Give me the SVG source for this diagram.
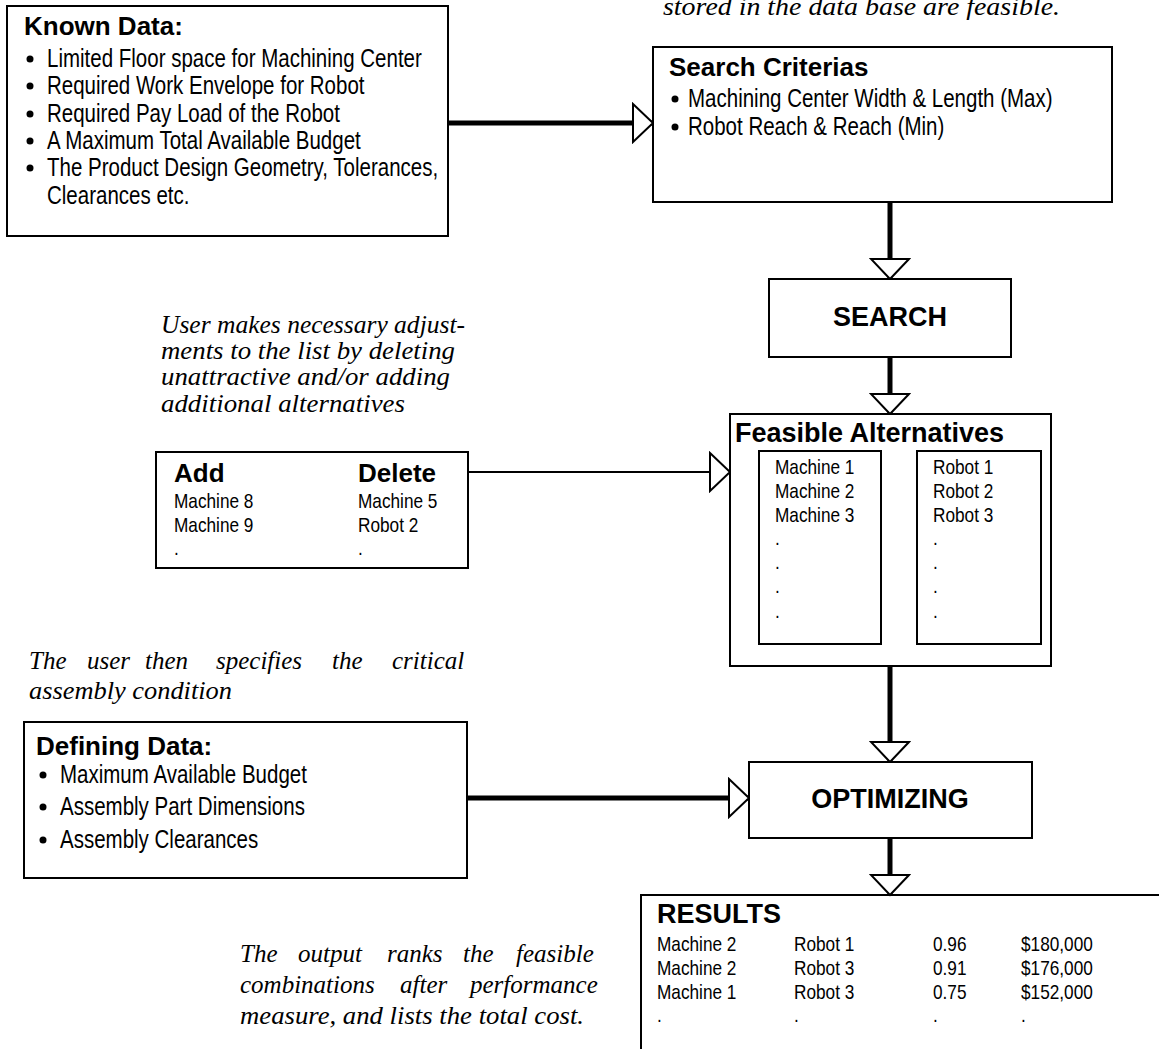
<svg xmlns="http://www.w3.org/2000/svg" width="1159" height="1049" viewBox="0 0 1159 1049">
<style>
.box{fill:#fff;stroke:#000;stroke-width:2}
.b{font-family:"Liberation Sans",Arial,sans-serif;font-weight:bold;font-size:26px;fill:#000}
.bc{font-family:"Liberation Sans",Arial,sans-serif;font-weight:bold;font-size:27px;fill:#000;text-anchor:middle}
.n{font-family:"Liberation Sans",Arial,sans-serif;font-size:25px;fill:#000}
.s{font-family:"Liberation Sans",Arial,sans-serif;font-size:21px;fill:#000}
.i{font-family:"Liberation Serif","Times New Roman",serif;font-style:italic;font-size:25px;fill:#000}
.dot{fill:#000}
.thick{fill:none;stroke:#000;stroke-width:5;marker-end:url(#ah)}
.thin{fill:none;stroke:#000;stroke-width:2;marker-end:url(#ah)}
</style>
<defs>
<marker id="ah" markerUnits="userSpaceOnUse" markerWidth="24" markerHeight="42" refX="21" refY="20" orient="auto" viewBox="-1 -1 24 42">
<path d="M1,1 L21,20 L1,39 Z" fill="#fff" stroke="#000" stroke-width="2"/>
</marker>
</defs>
<rect width="1159" height="1049" fill="#fff"/>

<g id="connectors">
<path class="thick" d="M448,123 H653"/>
<path class="thick" d="M890,202 V279"/>
<path class="thick" d="M890,357 V414"/>
<path class="thin" d="M468,472 H730"/>
<path class="thick" d="M890,666 V762"/>
<path class="thick" d="M467,798 H749"/>
<path class="thick" d="M890,838 V895"/>
</g>

<g id="note-top">
<text class="i" x="663" y="15" textLength="397" lengthAdjust="spacingAndGlyphs">stored in the data base are feasible.</text>
</g>

<g id="known-data">
<rect class="box" x="7" y="6" width="441" height="230"/>
<text class="b" x="24" y="35">Known Data:</text>
<circle class="dot" cx="30" cy="59" r="3.5"/>
<circle class="dot" cx="30" cy="86" r="3.5"/>
<circle class="dot" cx="30" cy="114" r="3.5"/>
<circle class="dot" cx="30" cy="141" r="3.5"/>
<circle class="dot" cx="30" cy="168" r="3.5"/>
<text class="n" transform="translate(47 67) scale(0.82 1)">Limited Floor space for Machining Center</text>
<text class="n" transform="translate(47 94) scale(0.82 1)">Required Work Envelope for Robot</text>
<text class="n" transform="translate(47 122) scale(0.82 1)">Required Pay Load of the Robot</text>
<text class="n" transform="translate(47 149) scale(0.82 1)">A Maximum Total Available Budget</text>
<text class="n" transform="translate(47 176) scale(0.82 1)">The Product Design Geometry, Tolerances,</text>
<text class="n" transform="translate(47 204) scale(0.82 1)">Clearances etc.</text>
</g>

<g id="search-criteria">
<rect class="box" x="653" y="47" width="459" height="155"/>
<text class="b" x="669" y="76">Search Criterias</text>
<circle class="dot" cx="675" cy="99" r="3.5"/>
<circle class="dot" cx="675" cy="127" r="3.5"/>
<text class="n" transform="translate(688 107) scale(0.82 1)">Machining Center Width &amp; Length (Max)</text>
<text class="n" transform="translate(688 135) scale(0.82 1)">Robot Reach &amp; Reach (Min)</text>
</g>

<g id="search">
<rect class="box" x="769" y="279" width="242" height="78"/>
<text class="bc" x="890" y="326">SEARCH</text>
</g>

<g id="note-adjust">
<text class="i" x="161" y="333" textLength="304" lengthAdjust="spacingAndGlyphs">User makes necessary adjust-</text>
<text class="i" x="161" y="359" textLength="294" lengthAdjust="spacingAndGlyphs">ments to the list by deleting</text>
<text class="i" x="161" y="385" textLength="289" lengthAdjust="spacingAndGlyphs">unattractive and/or adding</text>
<text class="i" x="161" y="412" textLength="244" lengthAdjust="spacingAndGlyphs">additional alternatives</text>
</g>

<g id="add-delete">
<rect class="box" x="156" y="452" width="312" height="116"/>
<text class="b" x="174" y="482">Add</text>
<text class="b" x="358" y="482">Delete</text>
<text class="s" transform="translate(174 508) scale(0.82 1)">Machine 8</text>
<text class="s" transform="translate(174 532) scale(0.82 1)">Machine 9</text>
<text class="s" transform="translate(174 555) scale(0.82 1)">.</text>
<text class="s" transform="translate(358 508) scale(0.82 1)">Machine 5</text>
<text class="s" transform="translate(358 532) scale(0.82 1)">Robot 2</text>
<text class="s" transform="translate(358 555) scale(0.82 1)">.</text>
</g>

<g id="feasible-alternatives">
<rect class="box" x="730" y="414" width="321" height="252"/>
<text class="b" x="735" y="442" style="font-size:27px">Feasible Alternatives</text>
<rect class="box" x="759" y="451" width="122" height="193"/>
<rect class="box" x="917" y="451" width="124" height="193"/>
<text class="s" transform="translate(775 474) scale(0.82 1)">Machine 1</text>
<text class="s" transform="translate(775 498) scale(0.82 1)">Machine 2</text>
<text class="s" transform="translate(775 522) scale(0.82 1)">Machine 3</text>
<text class="s" transform="translate(775 545) scale(0.82 1)">.</text>
<text class="s" transform="translate(775 569) scale(0.82 1)">.</text>
<text class="s" transform="translate(775 593) scale(0.82 1)">.</text>
<text class="s" transform="translate(775 618) scale(0.82 1)">.</text>
<text class="s" transform="translate(933 474) scale(0.82 1)">Robot 1</text>
<text class="s" transform="translate(933 498) scale(0.82 1)">Robot 2</text>
<text class="s" transform="translate(933 522) scale(0.82 1)">Robot 3</text>
<text class="s" transform="translate(933 545) scale(0.82 1)">.</text>
<text class="s" transform="translate(933 569) scale(0.82 1)">.</text>
<text class="s" transform="translate(933 593) scale(0.82 1)">.</text>
<text class="s" transform="translate(933 618) scale(0.82 1)">.</text>
</g>

<g id="note-critical">
<text class="i" y="669"><tspan x="29">The</tspan><tspan x="87">user</tspan><tspan x="145">then</tspan><tspan x="216">specifies</tspan><tspan x="332">the</tspan><tspan x="392">critical</tspan></text>
<text class="i" x="29" y="699" textLength="203" lengthAdjust="spacingAndGlyphs">assembly condition</text>
</g>

<g id="defining-data">
<rect class="box" x="24" y="722" width="443" height="156"/>
<text class="b" x="36" y="755">Defining Data:</text>
<circle class="dot" cx="43" cy="775" r="3.5"/>
<circle class="dot" cx="43" cy="807" r="3.5"/>
<circle class="dot" cx="43" cy="840" r="3.5"/>
<text class="n" transform="translate(60 783) scale(0.82 1)">Maximum Available Budget</text>
<text class="n" transform="translate(60 815) scale(0.82 1)">Assembly Part Dimensions</text>
<text class="n" transform="translate(60 848) scale(0.82 1)">Assembly Clearances</text>
</g>

<g id="optimizing">
<rect class="box" x="749" y="762" width="283" height="76"/>
<text class="bc" x="890" y="808">OPTIMIZING</text>
</g>

<g id="results">
<path d="M641,1049 V895 H1159" fill="none" stroke="#000" stroke-width="2"/>
<text class="b" x="657" y="923" style="font-size:27px">RESULTS</text>
<text class="s" transform="translate(657 951) scale(0.82 1)">Machine 2</text>
<text class="s" transform="translate(657 975) scale(0.82 1)">Machine 2</text>
<text class="s" transform="translate(657 999) scale(0.82 1)">Machine 1</text>
<text class="s" transform="translate(657 1022) scale(0.82 1)">.</text>
<text class="s" transform="translate(794 951) scale(0.82 1)">Robot 1</text>
<text class="s" transform="translate(794 975) scale(0.82 1)">Robot 3</text>
<text class="s" transform="translate(794 999) scale(0.82 1)">Robot 3</text>
<text class="s" transform="translate(794 1022) scale(0.82 1)">.</text>
<text class="s" transform="translate(933 951) scale(0.82 1)">0.96</text>
<text class="s" transform="translate(933 975) scale(0.82 1)">0.91</text>
<text class="s" transform="translate(933 999) scale(0.82 1)">0.75</text>
<text class="s" transform="translate(933 1022) scale(0.82 1)">.</text>
<text class="s" transform="translate(1021 951) scale(0.82 1)">$180,000</text>
<text class="s" transform="translate(1021 975) scale(0.82 1)">$176,000</text>
<text class="s" transform="translate(1021 999) scale(0.82 1)">$152,000</text>
<text class="s" transform="translate(1021 1022) scale(0.82 1)">.</text>
</g>

<g id="note-output">
<text class="i" y="962"><tspan x="240">The</tspan><tspan x="298">output</tspan><tspan x="387">ranks</tspan><tspan x="463">the</tspan><tspan x="516">feasible</tspan></text>
<text class="i" y="993"><tspan x="240">combinations</tspan><tspan x="400">after</tspan><tspan x="470">performance</tspan></text>
<text class="i" x="240" y="1024" textLength="344" lengthAdjust="spacingAndGlyphs">measure, and lists the total cost.</text>
</g>
</svg>
